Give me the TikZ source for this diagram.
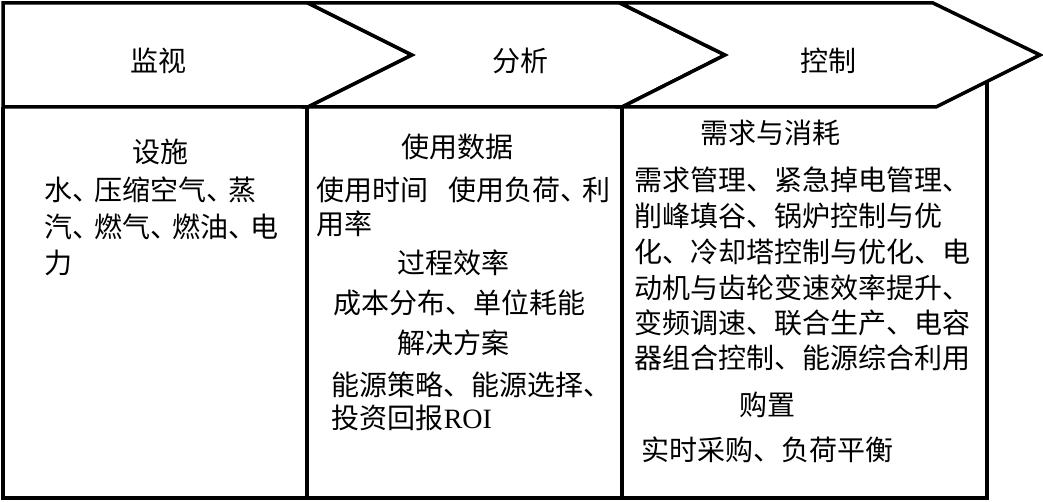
\documentclass[tikz,border=0pt]{standalone}
\usepackage{fontspec}
\newfontfamily\cjk{Noto Sans CJK SC}
\newfontfamily\lat{Liberation Serif}
\newcommand\ndun{、\hspace{-6pt}}
\begin{document}
\begin{tikzpicture}[x=1pt,y=-1pt,line width=3.5pt,line join=miter,
  txt/.style={inner sep=0pt,font=\cjk\fontsize{28}{28}\selectfont},
  lft/.style={txt,anchor=west},
  chev/.style={draw=black,fill=white}]
\useasboundingbox[fill=white] (0,0) rectangle (1043,502);
% lower panels
\coordinate (b3tr) at (987,82);
\coordinate (b3br) at (987,498);
\coordinate (b1bl) at (3,498);
\coordinate (b1tl) at (3,107);
\draw (b3tr) -- (b3br) -- (b1bl) -- (b1tl);
\draw (307,107) -- (307,498);
\draw (622,107) -- (622,498);
% chevrons
\draw[chev] (3,3) -- (308,3) -- (412,55) -- (308,107) -- (3,107) -- cycle;
\draw[chev] (308,3) -- (620,3) -- (725,55) -- (622,107) -- (308,107) -- (412,55) -- cycle;
\draw[chev] (620,3) -- (933,3) -- (1040,55) -- (936,107) -- (622,107) -- (725,55) -- cycle;
% headers
\node[txt] (h1) at (158,61) {监视};
\node[txt] (h2) at (520,61) {分析};
\node[txt] (h3) at (828,61) {控制};
% panel 1
\node[txt] (p1t) at (160,152) {设施};
\node[lft] (p1a) at (43,190) {水\ndun 压缩空气\ndun 蒸};
\node[lft] (p1b) at (43,227) {汽\ndun 燃气\ndun 燃油\ndun 电};
\node[lft] (p1c) at (43,263) {力};
% panel 2
\node[txt] (p2t) at (457,147) {使用数据};
\node[lft] (p2a) at (315,190) {使用时间\hspace{20pt}使用负荷\ndun 利};
\node[lft] (p2b) at (315,224) {用率};
\node[txt] (p2u) at (453,263) {过程效率};
\node[lft] (p2c) at (332,303) {成本分布、单位耗能};
\node[txt] (p2v) at (453,343) {解决方案};
\node[lft] (p2d) at (330,385) {能源策略、能源选择、};
\node[lft] (p2e) at (330,418) {投资回报{\lat ROI}};
% panel 3
\node[txt] (p3t) at (770,133) {需求与消耗};
\node[lft] (p3a) at (633,180) {需求管理、紧急掉电管理、};
\node[lft] (p3b) at (633,216) {削峰填谷、锅炉控制与优};
\node[lft] (p3c) at (633,252) {化、冷却塔控制与优化、电};
\node[lft] (p3d) at (633,288) {动机与齿轮变速效率提升、};
\node[lft] (p3e) at (633,323) {变频调速、联合生产、电容};
\node[lft] (p3f) at (633,358) {器组合控制、能源综合利用};
\node[txt] (p3u) at (767,405) {购置};
\node[lft] (p3g) at (640,450) {实时采购、负荷平衡};
\end{tikzpicture}
\end{document}
